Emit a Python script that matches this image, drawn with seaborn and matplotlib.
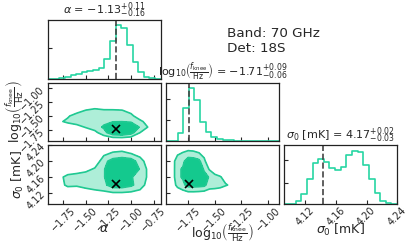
import numpy as np
import pandas as pd
import matplotlib
matplotlib.use("Agg")
import matplotlib.pyplot as plt
import seaborn as sns

# 1D posteriors (20 bins over each axis range), counts
alpha_range = (-1.917, -0.672)
logf_range = (-1.955, -0.90)
sigma_range = (4.0925, 4.24)

alpha_counts = [0, 0, 2, 5, 11, 15, 20, 22, 26, 32, 62, 117, 165, 155, 105, 50, 20, 5, 1, 0]
logf_counts = [0, 0, 26, 100, 160, 123, 58, 28, 13, 8, 5, 3, 2, 1, 1, 0.5, 0.5, 0, 0, 0]
sigma_counts = [0, 1, 8, 30, 75, 125, 137, 127, 110, 102, 112, 148, 162, 159, 118, 75, 32, 8, 2, 0]

alpha_true = -1.17
logf_true = -1.74
sigma_true = 4.143

# 2D density grids (arbitrary units; 1 = outer contour, 2 = inner contour)
alpha_nodes = [-1.9, -1.8, -1.7, -1.6, -1.5, -1.4, -1.3, -1.2, -1.1, -1.0, -0.9, -0.8, -0.7]
logf_rows = [-2.0, -1.9, -1.8, -1.7, -1.6, -1.5, -1.4, -1.3]
logf_nodes = [-1.95, -1.90, -1.85, -1.80, -1.75, -1.70, -1.65, -1.60, -1.55, -1.50, -1.45, -1.40, -1.35, -1.30]
sigma_rows = [4.10, 4.12, 4.14, 4.16, 4.18, 4.20, 4.22, 4.24]

dens_alpha_logf = [
    [0, 0, 0, 0, 0, 0, 0, 0, 0, 0, 0, 0, 0],
    [0, 0, 0, 0, 0, 0, 0.4, 0.7, 0.75, 0.55, 0, 0, 0],
    [0, 0, 0, 0, 0.1, 0.7, 1.62, 2.76, 2.96, 2.46, 1.0, 0.3, 0],
    [0, 0.2, 0.25, 0.55, 1.1, 1.5, 2.15, 3.56, 3.76, 3.26, 1.85, 0.85, 0],
    [0.2, 0.78, 1.25, 1.55, 1.8, 1.8, 1.73, 1.91, 1.95, 1.81, 1.3, 0.4, 0],
    [0, 0.3, 0.85, 1.5, 1.8, 1.8, 1.41, 1.51, 1.5, 1.3, 0.3, 0, 0],
    [0, 0, 0, 0.5, 1.05, 1.3, 1.1, 1.1, 1.05, 0.6, 0, 0, 0],
    [0, 0, 0, 0, 0, 0.3, 0.3, 0.25, 0.1, 0, 0, 0, 0],
]

dens_alpha_sigma = [
    [0, 0, 0, 0, 0, 0, 0, 0, 0, 0, 0, 0, 0],
    [0, 0, 0.2, 0.15, 0.4, 0.6, 0.75, 0.9, 0.9, 0.8, 0.65, 0.2, 0],
    [0, 0.6, 1.2, 1.15, 1.4, 1.6, 1.75, 2.5, 2.55, 2.2, 1.5, 0.5, 0],
    [0, 0.7, 1.3, 1.45, 1.65, 1.8, 1.85, 3.5, 3.55, 2.05, 1.75, 0.71, 0],
    [0, 0, 0.3, 0.45, 0.65, 1.15, 1.85, 3.4, 3.6, 3.5, 1.85, 0.67, 0],
    [0, 0, 0, 0, 0, 0.15, 1.7, 2.4, 2.6, 2.5, 1.5, 0.3, 0],
    [0, 0, 0, 0, 0, 0, 0.7, 1.14, 1.27, 0.95, 0.5, 0, 0],
    [0, 0, 0, 0, 0, 0, 0, 0.1, 0.15, 0, 0, 0, 0],
]

dens_logf_sigma = [
    [0, 0, 0, 0, 0, 0, 0, 0, 0, 0, 0, 0, 0, 0],
    [0, 0, 0.3, 0.55, 0.75, 0.75, 0.7, 0.6, 0.5, 0.45, 0.35, 0.1, 0.1, 0],
    [0, 0.4, 1.3, 1.75, 2.35, 2.4, 2.35, 2.25, 1.5, 1.45, 1.35, 1.1, 0.85, 0],
    [0, 0.35, 1.8, 2.1, 3.35, 3.4, 3.35, 2.6, 1.85, 1.35, 1.1, 0.6, 0.4, 0],
    [0, 0.35, 1.8, 2.1, 3.55, 3.5, 3.25, 1.76, 0.9, 0.35, 0.1, 0, 0, 0],
    [0, 0.35, 1.75, 1.75, 2.55, 2.5, 2.25, 1.29, 0, 0, 0, 0, 0, 0],
    [0, 0.1, 0.75, 1.1, 1.36, 1.29, 1.06, 0.6, 0, 0, 0, 0, 0, 0],
    [0, 0, 0, 0.1, 0.25, 0.2, 0.05, 0, 0, 0, 0, 0, 0, 0],
]

alpha_ticks = [-1.75, -1.50, -1.25, -1.00, -0.75]
alpha_ticklabels = ["\u22121.75", "\u22121.50", "\u22121.25", "\u22121.00", "\u22120.75"]
logf_ticks = [-1.75, -1.50, -1.25, -1.00]
logf_ticklabels = ["\u22121.75", "\u22121.50", "\u22121.25", "\u22121.00"]
sigma_ticks = [4.12, 4.16, 4.20, 4.24]
sigma_ticklabels = ["4.12", "4.16", "4.20", "4.24"]
hist_yticks = [[94], [63, 128], [64, 132]]

labels = [r"$\alpha$", r"$\log_{10}\!\left(\frac{f_{\rm knee}}{\rm Hz}\right)$", r"$\sigma_0$ [mK]"]
titles = [
    r"$\alpha$ = $-1.13_{-0.16}^{+0.11}$",
    r"$\log_{10}\!\left(\frac{f_{\rm knee}}{\rm Hz}\right)$ = $-1.71_{-0.06}^{+0.09}$",
    r"$\sigma_0$ [mK] = $4.17_{-0.03}^{+0.02}$",
]

hist_color = "#27d6a3"
outer_fill = "#aeeed8"
inner_fill = "#14c98e"
line_color = "#20c992"

sns.set_style("ticks")
plt.rcParams["font.family"] = ["DejaVu Sans"]
plt.rcParams["xtick.direction"] = "in"
plt.rcParams["ytick.direction"] = "in"

fig, axes = plt.subplots(3, 3, figsize=(4.11, 2.46), dpi=100)
fig.subplots_adjust(left=0.117, right=0.966, bottom=0.171, top=0.919, wspace=0.05, hspace=0.068)

ranges = [alpha_range, logf_range, sigma_range]
counts = [alpha_counts, logf_counts, sigma_counts]
truths = [alpha_true, logf_true, sigma_true]
ticks = [alpha_ticks, logf_ticks, sigma_ticks]
ticklabels = [alpha_ticklabels, logf_ticklabels, sigma_ticklabels]

for i in range(3):
    ax = axes[i, i]
    nb = len(counts[i])
    width = (ranges[i][1] - ranges[i][0]) / nb
    df = pd.DataFrame({
        "v": [ranges[i][0] + (k + 0.5) * width for k in range(nb)],
        "w": counts[i],
    })
    sns.histplot(data=df, x="v", weights="w", bins=nb, binrange=ranges[i],
                 element="step", fill=False, color=hist_color, linewidth=1.2, ax=ax)
    ax.axvline(truths[i], color="#444444", ls="--", lw=1.2)
    ax.set_xlim(ranges[i])
    ax.set_ylim(0, 1.1 * max(counts[i]))
    ax.set_yticks(hist_yticks[i])
    ax.set_yticklabels([])
    ax.set_ylabel("")
    ax.set_title(titles[i], fontsize=8, pad=2)

grids = {
    (1, 0): (alpha_nodes, logf_rows, dens_alpha_logf),
    (2, 0): (alpha_nodes, sigma_rows, dens_alpha_sigma),
    (2, 1): (logf_nodes, sigma_rows, dens_logf_sigma),
}
for (r, c), (xn, yn, dens) in grids.items():
    ax = axes[r, c]
    z = np.array(dens)
    ax.contourf(xn, yn, z, levels=[1, 2, 100], colors=[outer_fill, inner_fill])
    ax.contour(xn, yn, z, levels=[1, 2], colors=[line_color], linewidths=1.2)
    ax.plot(truths[c], truths[r], "x", color="k", ms=6, mew=1.2)
    ax.set_xlim(ranges[c])
    ax.set_ylim(ranges[r])

for r, c in [(0, 1), (0, 2), (1, 2)]:
    axes[r, c].set_axis_off()

for r in range(3):
    for c in range(r + 1):
        ax = axes[r, c]
        ax.set_xticks(ticks[c])
        ax.tick_params(length=3, width=0.8, labelsize=7, pad=1)
        for s in ax.spines.values():
            s.set_color("#222222")
            s.set_linewidth(0.9)
        if r == 2:
            ax.set_xticklabels(ticklabels[c], rotation=45)
            ax.set_xlabel(labels[c], fontsize=9)
            ax.xaxis.set_label_coords(0.5, -0.3)
        else:
            ax.set_xticklabels([])
            ax.set_xlabel("")
        if c == 0 and r > 0:
            ax.set_yticks(ticks[r])
            ax.set_yticklabels(ticklabels[r], rotation=45)
            ax.set_ylabel(labels[r], fontsize=9)
            ax.yaxis.set_label_coords(-0.2, 0.5)
        elif r != c:
            ax.set_yticks(ticks[r])
            ax.set_yticklabels([])
            ax.set_ylabel("")

fig.text(0.552, 0.89, "Band: 70 GHz\nDet: 18S", fontsize=9.7, va="top", ha="left")

fig.savefig("out.png", dpi=100)
